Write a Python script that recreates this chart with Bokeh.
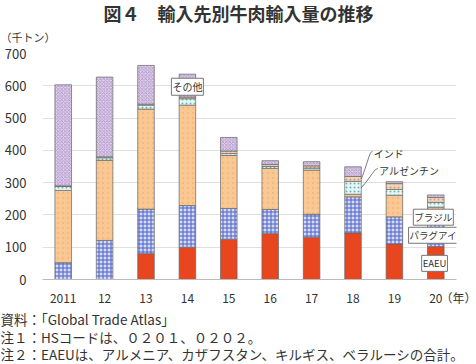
from bokeh.plotting import figure
from bokeh.layouts import column
from bokeh.models import Label, FixedTicker, ColumnDataSource, Range1d
from bokeh.core.properties import value
from bokeh.embed import file_html
from bokeh.resources import INLINE

years = ["2011", "12", "13", "14", "15", "16", "17", "18", "19", "20"]
eaeu = [0, 0, 80, 100, 125, 142, 131, 144, 110, 102]
paraguay = [52, 121, 138, 129, 95, 75, 71, 112, 84, 73]
brazil = [224, 248, 310, 311, 164, 127, 137, 8, 67, 49]
argentina = [12, 8, 12, 20, 6, 6, 6, 40, 18, 15]
india = [2, 3, 3, 5, 8, 6, 7, 15, 18, 15]
other = [313, 247, 120, 71, 42, 12, 13, 30, 6, 8]
y_ticks = [0, 100, 200, 300, 400, 500, 600, 700]

title_text = "図４　輸入先別牛肉輸入量の推移"
unit_text = "（千トン）"
year_text = "\u2002（年）"
notes = ["資料：「Global Trade Atlas」",
         "注１：HSコードは、０２０１、０２０２。",
         "注２：EAEUは、アルメニア、カザフスタン、キルギス、ベラルーシの合計。"]

FONT = "Noto Sans CJK JP"
W = 476


def no_align(f):
    try:
        f.frame_align = False
    except AttributeError:
        pass


def text_fig(h):
    f = figure(width=W, height=h, output_backend="svg", toolbar_location=None,
               x_range=Range1d(0, W), y_range=Range1d(0, h),
               x_axis_type=None, y_axis_type=None,
               min_border=0, min_border_left=0, min_border_right=0,
               min_border_top=0, min_border_bottom=0)
    f.outline_line_color = None
    f.xgrid.visible = False
    f.ygrid.visible = False
    no_align(f)
    return f


# header
head = text_fig(45)
head.text(x=[238], y=[33], text=[title_text], text_font=value(FONT),
          text_font_size="18px", text_font_style="bold", text_align="center",
          text_baseline="middle", text_color="#333333")
head.text(x=[0], y=[9], text=[unit_text], text_font=value(FONT),
          text_font_size="11px", text_align="left", text_baseline="middle",
          text_color="#333333")

# main chart
idx = list(range(len(years)))
src = ColumnDataSource(dict(x=idx, eaeu=eaeu, paraguay=paraguay, brazil=brazil,
                            argentina=argentina, india=india, other=other))

p = figure(width=W, height=263, output_backend="svg", toolbar_location=None,
           x_range=Range1d(-0.5, 9.5), y_range=Range1d(0, 700),
           min_border_left=42, min_border_right=20, min_border_top=8,
           min_border_bottom=21)
p.outline_line_color = None
no_align(p)

series = ["eaeu", "paraguay", "brazil", "argentina", "india", "other"]
p.vbar_stack(series, x="x", width=0.4, source=src,
             fill_color=["#E8461E", "#D6DBF4", "#F9C894", "#E6F5F5", "#F3D5BA", "#E0CFEA"],
             line_color="#666666", line_width=0.7,
             hatch_pattern=["blank", "+", ".", ".", ".", "x"],
             hatch_color=["#E8461E", "#4B5FC8", "#F0B070", "#6FB5B5", "#C8906A", "#A58BC4"],
             hatch_scale=[4, 4, 5, 4, 4, 3.5],
             hatch_weight=[1, 1, 1, 1, 1, 0.8],
             hatch_alpha=[0, 1, 0.6, 1, 0.8, 1])

x_end = 9.5
p.xaxis.ticker = FixedTicker(ticks=idx + [x_end])
overrides = {i: y for i, y in enumerate(years)}
overrides[x_end] = year_text
p.xaxis.major_label_overrides = overrides
p.yaxis.ticker = FixedTicker(ticks=y_ticks)
for ax in (p.xaxis, p.yaxis):
    ax.major_tick_line_color = None
    ax.minor_tick_line_color = None
    ax.major_label_text_font = FONT
    ax.major_label_text_font_size = "12px"
    ax.major_label_text_color = "#333333"
p.yaxis.major_label_text_font_size = "13px"
p.yaxis.axis_line_color = None
p.yaxis.major_label_standoff = 10
p.xaxis.axis_line_color = "#BBBBBB"
p.xaxis.major_label_standoff = 3
p.xgrid.grid_line_color = None
p.ygrid.grid_line_color = "#E0E0E0"


def lab(x, y, text, size="10px", align="left", box=False):
    kw = {}
    if box:
        kw = dict(background_fill_color="white", border_line_color="#777777",
                  border_line_width=1, padding=1)
    p.add_layout(Label(x=x, y=y, text=text, text_font=FONT, text_font_size=size,
                       text_align=align, text_baseline="middle",
                       text_color="#333333", **kw))


lab(3, 597, "その他", size="10px", align="center", box=True)
lab(8.94, 193, "ブラジル", size="9.5px", align="center", box=True)
lab(8.94, 137, "パラグアイ", size="9.5px", align="center", box=True)
lab(8.97, 50, "EAEU", size="9.5px", align="center", box=True)
lab(7.5, 391, "インド", size="10px")
lab(7.63, 337, "アルゼンチン", size="10px")

# leader lines from labels to the 2018 bar
cum = [sum(v) for v in zip(eaeu, paraguay, brazil, argentina)]
i18 = years.index("18")
india_mid = cum[i18] + india[i18] / 2
arg_mid = cum[i18] - argentina[i18] / 2
p.bezier(x0=[7.47, 7.6], y0=[396, 343], x1=[7.2, 7.2], y1=[india_mid, arg_mid],
         cx0=[7.4, 7.52], cy0=[398, 345], cx1=[7.38, 7.45], cy1=[370, 320],
         line_color="#555555", line_width=0.8)

# footer
foot = text_fig(56)
foot.text(x=[0, 0, 0], y=[46, 28, 10.5], text=notes, text_font=value(FONT),
          text_font_size="13.5px", text_align="left", text_baseline="middle",
          text_color="#333333")

layout = column(head, p, foot, spacing=0)
open("out.html", "w").write(file_html(layout, INLINE))
